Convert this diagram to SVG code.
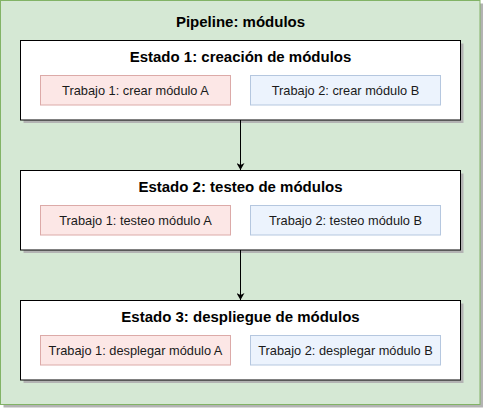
<svg xmlns="http://www.w3.org/2000/svg" width="483" height="411" viewBox="0 0 483 411">
<defs>
<style>
.shadow{fill:#b3b3b3;}
.stage{fill:#ffffff;stroke:#000000;stroke-width:1;}
.jobA{fill:#fce7e6;stroke:#dcaaa8;stroke-width:1;}
.jobB{fill:#ecf3fd;stroke:#b5c7df;stroke-width:1;}
.title{font-family:"Liberation Sans",Arial,sans-serif;font-weight:bold;font-size:15px;fill:#000;text-anchor:middle;dominant-baseline:central;}
.job{font-family:"Liberation Sans",Arial,sans-serif;font-size:12.8px;fill:#1a1a1a;text-anchor:middle;dominant-baseline:central;}
.conn{stroke:#000;stroke-width:1;fill:none;}
</style>
<marker id="arrow" markerWidth="8" markerHeight="8" refX="7" refY="4" orient="auto" markerUnits="userSpaceOnUse">
<path d="M0,0 L7,4 L0,8 L2,4 Z" fill="#000"/>
</marker>
</defs>
<g id="pipeline">
<rect class="shadow" x="3.5" y="3.5" width="479.5" height="404"/>
<rect x="0.5" y="0.5" width="479.5" height="404" fill="#d5e8d4" stroke="#82b366"/>
<text class="title" x="240.5" y="21">Pipeline: módulos</text>
</g>
<g id="estado1">
<rect class="shadow" x="23.5" y="43.5" width="440" height="79.5"/>
<rect class="stage" x="20.5" y="40.5" width="440" height="79.5"/>
<text class="title" x="240.5" y="56">Estado 1: creación de módulos</text>
</g>
<g id="e1-job1">
<rect class="jobA" x="40.5" y="75.5" width="190" height="29.5"/>
<text class="job" x="135.5" y="90.5">Trabajo 1: crear módulo A</text>
</g>
<g id="e1-job2">
<rect class="jobB" x="250.5" y="75.5" width="190" height="29.5"/>
<text class="job" x="345.5" y="90.5">Trabajo 2: crear módulo B</text>
</g>
<g id="estado2">
<rect class="shadow" x="23.5" y="173.5" width="440" height="79.5"/>
<rect class="stage" x="20.5" y="170.5" width="440" height="79.5"/>
<text class="title" x="240.5" y="186">Estado 2: testeo de módulos</text>
</g>
<g id="e2-job1">
<rect class="jobA" x="40.5" y="205.5" width="190" height="29.5"/>
<text class="job" x="135.5" y="220.5">Trabajo 1: testeo módulo A</text>
</g>
<g id="e2-job2">
<rect class="jobB" x="250.5" y="205.5" width="190" height="29.5"/>
<text class="job" x="345.5" y="220.5">Trabajo 2: testeo módulo B</text>
</g>
<g id="estado3">
<rect class="shadow" x="23.5" y="303.5" width="440" height="79.5"/>
<rect class="stage" x="20.5" y="300.5" width="440" height="79.5"/>
<text class="title" x="240.5" y="316">Estado 3: despliegue de módulos</text>
</g>
<g id="e3-job1">
<rect class="jobA" x="40.5" y="335.5" width="190" height="29.5"/>
<text class="job" x="135.5" y="350.5">Trabajo 1: desplegar módulo A</text>
</g>
<g id="e3-job2">
<rect class="jobB" x="250.5" y="335.5" width="190" height="29.5"/>
<text class="job" x="345.5" y="350.5">Trabajo 2: desplegar módulo B</text>
</g>
<g id="connectors">
<path class="conn" d="M240.5,120 L240.5,170" marker-end="url(#arrow)"/>
<path class="conn" d="M240.5,250 L240.5,300" marker-end="url(#arrow)"/>
</g>
</svg>
